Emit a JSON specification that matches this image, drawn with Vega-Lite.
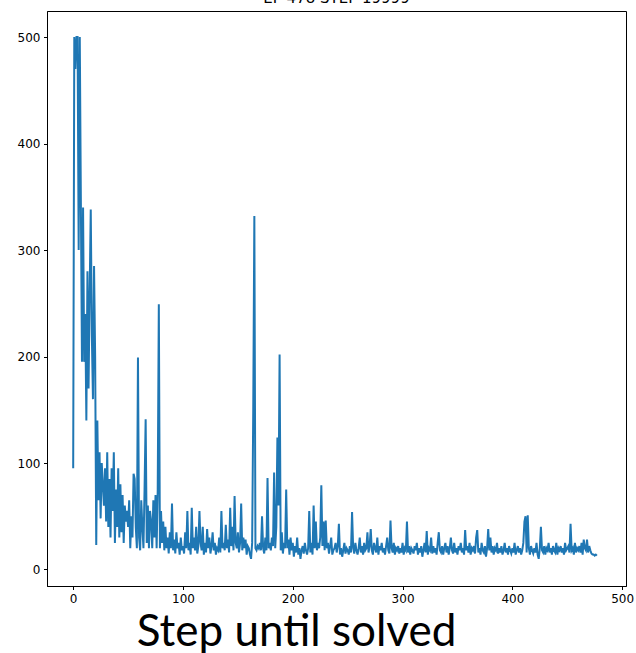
{
  "$schema": "https://vega.github.io/schema/vega-lite/v6.json",
  "autosize": {"type": "none"},
  "padding": {"left": 47, "top": 11, "right": 10, "bottom": 67},
  "width": 579,
  "height": 575,
  "background": "white",
  "title": {"text": "EP 478 STEP 19999", "font": "DejaVu Sans", "fontSize": 15, "fontWeight": "normal", "color": "#000", "baseline": "alphabetic", "offset": 1, "dy": 8, "anchor": "middle"},
  "config": {
    "view": {"stroke": "#000", "strokeWidth": 1},
    "axis": {"grid": false, "domainColor": "#000", "tickColor": "#000", "tickSize": 3.5, "labelFont": "DejaVu Sans", "labelFontSize": 12, "labelColor": "#000", "labelPadding": 3.5}
  },
  "data": {"values": [
    {"ep":0,"steps":95},{"ep":1,"steps":500},{"ep":2,"steps":470},{"ep":3,"steps":500},{"ep":4,"steps":500},{"ep":5,"steps":300},{"ep":6,"steps":500},{"ep":7,"steps":345},{"ep":8,"steps":195},{"ep":9,"steps":340},
    {"ep":10,"steps":195},{"ep":11,"steps":240},{"ep":12,"steps":140},{"ep":13,"steps":280},{"ep":14,"steps":170},{"ep":15,"steps":260},{"ep":16,"steps":338},{"ep":17,"steps":220},{"ep":18,"steps":160},{"ep":19,"steps":285},
    {"ep":20,"steps":200},{"ep":21,"steps":23},{"ep":22,"steps":140},{"ep":23,"steps":65},{"ep":24,"steps":110},{"ep":25,"steps":48},{"ep":26,"steps":100},{"ep":27,"steps":80},{"ep":28,"steps":60},{"ep":29,"steps":95},
    {"ep":30,"steps":45},{"ep":31,"steps":110},{"ep":32,"steps":40},{"ep":33,"steps":85},{"ep":34,"steps":30},{"ep":35,"steps":95},{"ep":36,"steps":55},{"ep":37,"steps":110},{"ep":38,"steps":25},{"ep":39,"steps":75},
    {"ep":40,"steps":40},{"ep":41,"steps":95},{"ep":42,"steps":30},{"ep":43,"steps":80},{"ep":44,"steps":35},{"ep":45,"steps":70},{"ep":46,"steps":25},{"ep":47,"steps":60},{"ep":48,"steps":45},{"ep":49,"steps":55},
    {"ep":50,"steps":40},{"ep":51,"steps":65},{"ep":52,"steps":20},{"ep":53,"steps":50},{"ep":54,"steps":30},{"ep":55,"steps":90},{"ep":56,"steps":85},{"ep":57,"steps":40},{"ep":58,"steps":20},{"ep":59,"steps":199},
    {"ep":60,"steps":30},{"ep":61,"steps":18},{"ep":62,"steps":65},{"ep":63,"steps":40},{"ep":64,"steps":20},{"ep":65,"steps":75},{"ep":66,"steps":141},{"ep":67,"steps":25},{"ep":68,"steps":60},{"ep":69,"steps":20},
    {"ep":70,"steps":55},{"ep":71,"steps":45},{"ep":72,"steps":20},{"ep":73,"steps":65},{"ep":74,"steps":30},{"ep":75,"steps":70},{"ep":76,"steps":20},{"ep":77,"steps":75},{"ep":78,"steps":249},{"ep":79,"steps":20},
    {"ep":80,"steps":55},{"ep":81,"steps":25},{"ep":82,"steps":45},{"ep":83,"steps":18},{"ep":84,"steps":40},{"ep":85,"steps":20},{"ep":86,"steps":30},{"ep":87,"steps":15},{"ep":88,"steps":35},{"ep":89,"steps":20},
    {"ep":90,"steps":62},{"ep":91,"steps":18},{"ep":92,"steps":28},{"ep":93,"steps":15},{"ep":94,"steps":35},{"ep":95,"steps":20},{"ep":96,"steps":25},{"ep":97,"steps":14},{"ep":98,"steps":30},{"ep":99,"steps":18},
    {"ep":100,"steps":22},{"ep":101,"steps":15},{"ep":102,"steps":35},{"ep":103,"steps":20},{"ep":104,"steps":55},{"ep":105,"steps":18},{"ep":106,"steps":25},{"ep":107,"steps":14},{"ep":108,"steps":58},{"ep":109,"steps":20},
    {"ep":110,"steps":30},{"ep":111,"steps":18},{"ep":112,"steps":40},{"ep":113,"steps":15},{"ep":114,"steps":22},{"ep":115,"steps":55},{"ep":116,"steps":25},{"ep":117,"steps":18},{"ep":118,"steps":40},{"ep":119,"steps":14},
    {"ep":120,"steps":25},{"ep":121,"steps":16},{"ep":122,"steps":38},{"ep":123,"steps":20},{"ep":124,"steps":30},{"ep":125,"steps":15},{"ep":126,"steps":22},{"ep":127,"steps":35},{"ep":128,"steps":18},{"ep":129,"steps":25},
    {"ep":130,"steps":14},{"ep":131,"steps":20},{"ep":132,"steps":18},{"ep":133,"steps":30},{"ep":134,"steps":16},{"ep":135,"steps":55},{"ep":136,"steps":20},{"ep":137,"steps":25},{"ep":138,"steps":18},{"ep":139,"steps":42},
    {"ep":140,"steps":20},{"ep":141,"steps":28},{"ep":142,"steps":16},{"ep":143,"steps":58},{"ep":144,"steps":22},{"ep":145,"steps":40},{"ep":146,"steps":18},{"ep":147,"steps":69},{"ep":148,"steps":25},{"ep":149,"steps":20},
    {"ep":150,"steps":35},{"ep":151,"steps":16},{"ep":152,"steps":25},{"ep":153,"steps":62},{"ep":154,"steps":18},{"ep":155,"steps":30},{"ep":156,"steps":20},{"ep":157,"steps":28},{"ep":158,"steps":14},{"ep":159,"steps":22},
    {"ep":160,"steps":20},{"ep":161,"steps":14},{"ep":162,"steps":10},{"ep":163,"steps":25},{"ep":164,"steps":150},{"ep":165,"steps":332},{"ep":166,"steps":20},{"ep":167,"steps":18},{"ep":168,"steps":22},{"ep":169,"steps":20},
    {"ep":170,"steps":25},{"ep":171,"steps":18},{"ep":172,"steps":50},{"ep":173,"steps":20},{"ep":174,"steps":15},{"ep":175,"steps":30},{"ep":176,"steps":18},{"ep":177,"steps":86},{"ep":178,"steps":20},{"ep":179,"steps":25},
    {"ep":180,"steps":18},{"ep":181,"steps":30},{"ep":182,"steps":22},{"ep":183,"steps":91},{"ep":184,"steps":20},{"ep":185,"steps":40},{"ep":186,"steps":124},{"ep":187,"steps":60},{"ep":188,"steps":202},{"ep":189,"steps":18},
    {"ep":190,"steps":35},{"ep":191,"steps":15},{"ep":192,"steps":25},{"ep":193,"steps":20},{"ep":194,"steps":75},{"ep":195,"steps":20},{"ep":196,"steps":28},{"ep":197,"steps":14},{"ep":198,"steps":30},{"ep":199,"steps":18},
    {"ep":200,"steps":25},{"ep":201,"steps":12},{"ep":202,"steps":22},{"ep":203,"steps":16},{"ep":204,"steps":30},{"ep":205,"steps":14},{"ep":206,"steps":20},{"ep":207,"steps":10},{"ep":208,"steps":18},{"ep":209,"steps":22},
    {"ep":210,"steps":15},{"ep":211,"steps":25},{"ep":212,"steps":18},{"ep":213,"steps":14},{"ep":214,"steps":20},{"ep":215,"steps":55},{"ep":216,"steps":16},{"ep":217,"steps":25},{"ep":218,"steps":14},{"ep":219,"steps":60},
    {"ep":220,"steps":20},{"ep":221,"steps":45},{"ep":222,"steps":18},{"ep":223,"steps":25},{"ep":224,"steps":20},{"ep":225,"steps":30},{"ep":226,"steps":79},{"ep":227,"steps":22},{"ep":228,"steps":45},{"ep":229,"steps":18},
    {"ep":230,"steps":46},{"ep":231,"steps":20},{"ep":232,"steps":25},{"ep":233,"steps":15},{"ep":234,"steps":22},{"ep":235,"steps":30},{"ep":236,"steps":14},{"ep":237,"steps":18},{"ep":238,"steps":20},{"ep":239,"steps":25},
    {"ep":240,"steps":16},{"ep":241,"steps":22},{"ep":242,"steps":43},{"ep":243,"steps":14},{"ep":244,"steps":20},{"ep":245,"steps":12},{"ep":246,"steps":18},{"ep":247,"steps":25},{"ep":248,"steps":15},{"ep":249,"steps":20},
    {"ep":250,"steps":18},{"ep":251,"steps":14},{"ep":252,"steps":22},{"ep":253,"steps":16},{"ep":254,"steps":54},{"ep":255,"steps":20},{"ep":256,"steps":15},{"ep":257,"steps":25},{"ep":258,"steps":18},{"ep":259,"steps":14},
    {"ep":260,"steps":20},{"ep":261,"steps":30},{"ep":262,"steps":16},{"ep":263,"steps":22},{"ep":264,"steps":14},{"ep":265,"steps":25},{"ep":266,"steps":18},{"ep":267,"steps":20},{"ep":268,"steps":35},{"ep":269,"steps":16},
    {"ep":270,"steps":22},{"ep":271,"steps":38},{"ep":272,"steps":18},{"ep":273,"steps":14},{"ep":274,"steps":25},{"ep":275,"steps":20},{"ep":276,"steps":16},{"ep":277,"steps":30},{"ep":278,"steps":14},{"ep":279,"steps":22},
    {"ep":280,"steps":18},{"ep":281,"steps":25},{"ep":282,"steps":16},{"ep":283,"steps":20},{"ep":284,"steps":14},{"ep":285,"steps":22},{"ep":286,"steps":30},{"ep":287,"steps":18},{"ep":288,"steps":15},{"ep":289,"steps":46},
    {"ep":290,"steps":20},{"ep":291,"steps":16},{"ep":292,"steps":25},{"ep":293,"steps":14},{"ep":294,"steps":20},{"ep":295,"steps":18},{"ep":296,"steps":22},{"ep":297,"steps":15},{"ep":298,"steps":20},{"ep":299,"steps":16},
    {"ep":300,"steps":25},{"ep":301,"steps":14},{"ep":302,"steps":20},{"ep":303,"steps":18},{"ep":304,"steps":45},{"ep":305,"steps":16},{"ep":306,"steps":22},{"ep":307,"steps":14},{"ep":308,"steps":20},{"ep":309,"steps":18},
    {"ep":310,"steps":15},{"ep":311,"steps":22},{"ep":312,"steps":18},{"ep":313,"steps":25},{"ep":314,"steps":14},{"ep":315,"steps":20},{"ep":316,"steps":16},{"ep":317,"steps":22},{"ep":318,"steps":12},{"ep":319,"steps":18},
    {"ep":320,"steps":25},{"ep":321,"steps":16},{"ep":322,"steps":36},{"ep":323,"steps":14},{"ep":324,"steps":20},{"ep":325,"steps":18},{"ep":326,"steps":30},{"ep":327,"steps":15},{"ep":328,"steps":22},{"ep":329,"steps":16},
    {"ep":330,"steps":20},{"ep":331,"steps":14},{"ep":332,"steps":25},{"ep":333,"steps":35},{"ep":334,"steps":18},{"ep":335,"steps":16},{"ep":336,"steps":22},{"ep":337,"steps":14},{"ep":338,"steps":20},{"ep":339,"steps":25},
    {"ep":340,"steps":16},{"ep":341,"steps":22},{"ep":342,"steps":14},{"ep":343,"steps":20},{"ep":344,"steps":30},{"ep":345,"steps":18},{"ep":346,"steps":15},{"ep":347,"steps":25},{"ep":348,"steps":16},{"ep":349,"steps":20},
    {"ep":350,"steps":14},{"ep":351,"steps":22},{"ep":352,"steps":18},{"ep":353,"steps":25},{"ep":354,"steps":16},{"ep":355,"steps":20},{"ep":356,"steps":14},{"ep":357,"steps":37},{"ep":358,"steps":18},{"ep":359,"steps":22},
    {"ep":360,"steps":16},{"ep":361,"steps":25},{"ep":362,"steps":14},{"ep":363,"steps":20},{"ep":364,"steps":18},{"ep":365,"steps":22},{"ep":366,"steps":15},{"ep":367,"steps":30},{"ep":368,"steps":37},{"ep":369,"steps":16},
    {"ep":370,"steps":20},{"ep":371,"steps":14},{"ep":372,"steps":25},{"ep":373,"steps":18},{"ep":374,"steps":16},{"ep":375,"steps":22},{"ep":376,"steps":12},{"ep":377,"steps":20},{"ep":378,"steps":38},{"ep":379,"steps":18},
    {"ep":380,"steps":30},{"ep":381,"steps":16},{"ep":382,"steps":22},{"ep":383,"steps":14},{"ep":384,"steps":20},{"ep":385,"steps":18},{"ep":386,"steps":25},{"ep":387,"steps":15},{"ep":388,"steps":20},{"ep":389,"steps":16},
    {"ep":390,"steps":22},{"ep":391,"steps":14},{"ep":392,"steps":18},{"ep":393,"steps":25},{"ep":394,"steps":16},{"ep":395,"steps":20},{"ep":396,"steps":14},{"ep":397,"steps":22},{"ep":398,"steps":18},{"ep":399,"steps":15},
    {"ep":400,"steps":20},{"ep":401,"steps":16},{"ep":402,"steps":25},{"ep":403,"steps":14},{"ep":404,"steps":18},{"ep":405,"steps":22},{"ep":406,"steps":16},{"ep":407,"steps":20},{"ep":408,"steps":14},{"ep":409,"steps":18},
    {"ep":410,"steps":25},{"ep":411,"steps":45},{"ep":412,"steps":50},{"ep":413,"steps":16},{"ep":414,"steps":51},{"ep":415,"steps":20},{"ep":416,"steps":14},{"ep":417,"steps":22},{"ep":418,"steps":18},{"ep":419,"steps":15},
    {"ep":420,"steps":20},{"ep":421,"steps":16},{"ep":422,"steps":25},{"ep":423,"steps":14},{"ep":424,"steps":10},{"ep":425,"steps":20},{"ep":426,"steps":40},{"ep":427,"steps":18},{"ep":428,"steps":16},{"ep":429,"steps":22},
    {"ep":430,"steps":14},{"ep":431,"steps":20},{"ep":432,"steps":18},{"ep":433,"steps":25},{"ep":434,"steps":16},{"ep":435,"steps":20},{"ep":436,"steps":14},{"ep":437,"steps":22},{"ep":438,"steps":18},{"ep":439,"steps":16},
    {"ep":440,"steps":25},{"ep":441,"steps":14},{"ep":442,"steps":20},{"ep":443,"steps":18},{"ep":444,"steps":22},{"ep":445,"steps":16},{"ep":446,"steps":20},{"ep":447,"steps":14},{"ep":448,"steps":25},{"ep":449,"steps":18},
    {"ep":450,"steps":20},{"ep":451,"steps":22},{"ep":452,"steps":16},{"ep":453,"steps":43},{"ep":454,"steps":18},{"ep":455,"steps":20},{"ep":456,"steps":14},{"ep":457,"steps":25},{"ep":458,"steps":16},{"ep":459,"steps":20},
    {"ep":460,"steps":18},{"ep":461,"steps":22},{"ep":462,"steps":16},{"ep":463,"steps":25},{"ep":464,"steps":14},{"ep":465,"steps":28},{"ep":466,"steps":20},{"ep":467,"steps":18},{"ep":468,"steps":28},{"ep":469,"steps":16},
    {"ep":470,"steps":22},{"ep":471,"steps":18},{"ep":472,"steps":15},{"ep":473,"steps":14},{"ep":474,"steps":14},{"ep":475,"steps":13},{"ep":476,"steps":14},{"ep":477,"steps":13}
  ]},
  "mark": {"type": "line", "color": "#1f77b4", "strokeWidth": 2},
  "encoding": {
    "x": {"field": "ep", "type": "quantitative", "scale": {"domain": [-23.85, 503.5], "nice": false, "zero": false},
      "axis": {"values": [0, 100, 200, 300, 400, 500], "title": "Step until solved", "titleFont": "Lato", "titleFontSize": 44, "titleFontWeight": "normal", "titleColor": "#000", "titleX": 249, "titleY": 59, "titleAlign": "center", "titleBaseline": "alphabetic"}},
    "y": {"field": "steps", "type": "quantitative", "scale": {"domain": [-15.5, 524.5], "nice": false, "zero": false},
      "axis": {"values": [0, 100, 200, 300, 400, 500], "title": null}}
  }
}
